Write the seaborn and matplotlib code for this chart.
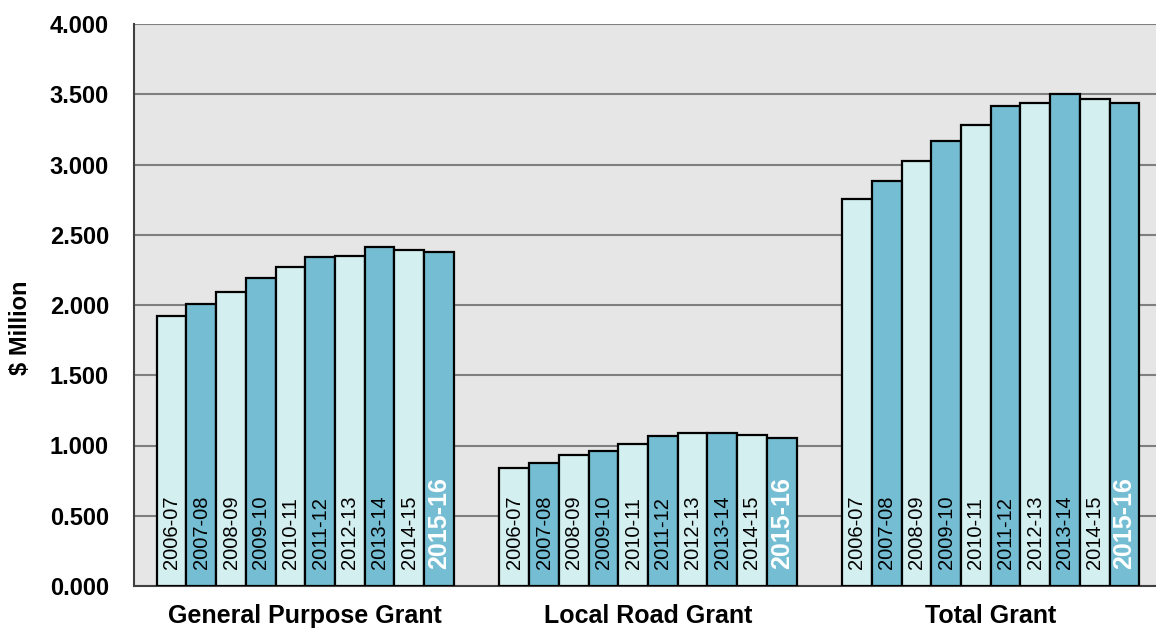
import pandas as pd
import matplotlib.pyplot as plt
import matplotlib.ticker as mticker
import seaborn as sns

# values in $ million (thousands)
grants = ['General Purpose Grant', 'Local Road Grant', 'Total Grant']
years = ['2006-07', '2007-08', '2008-09', '2009-10', '2010-11',
         '2011-12', '2012-13', '2013-14', '2014-15', '2015-16']
general_purpose = [1.920, 2.007, 2.090, 2.190, 2.270, 2.340, 2.350, 2.410, 2.390, 2.380]
local_road = [0.840, 0.875, 0.930, 0.963, 1.010, 1.070, 1.087, 1.087, 1.077, 1.050]
total = [2.755, 2.880, 3.027, 3.165, 3.280, 3.414, 3.435, 3.500, 3.464, 3.435]

rows = []
for grant, vals in zip(grants, [general_purpose, local_road, total]):
    for yr, v in zip(years, vals):
        rows.append({'grant': grant, 'year': yr, 'value': v})
df = pd.DataFrame(rows)

LIGHT = '#d3efef'
DARK = '#75bdd3'
GRID = '#7f7f7f'

sns.set_style('white')
plt.rcParams['font.family'] = ['Liberation Sans', 'DejaVu Sans']
plt.rcParams['text.color'] = 'black'
plt.rcParams['xtick.color'] = 'black'
plt.rcParams['ytick.color'] = 'black'
plt.rcParams['axes.labelcolor'] = 'black'

fig = plt.figure(figsize=(11.56, 6.28), dpi=100)
ax = fig.add_axes([134 / 1156, 1 - 586 / 628, 1028 / 1156, 562 / 628])
ax.set_facecolor('#e6e6e6')

sns.barplot(data=df, x='grant', y='value', hue='year', palette=[LIGHT, DARK] * 5,
            width=0.867, edgecolor='black', linewidth=1.6, saturation=1,
            legend=False, ax=ax, zorder=3)

# year labels inside the bars
for container, yr in zip(ax.containers, years):
    last = yr == years[-1]
    for bar in container:
        ax.text(bar.get_x() + bar.get_width() / 2, 0.12, yr, rotation=90,
                ha='center', va='bottom', zorder=4,
                color='white' if last else 'black',
                fontsize=18 if last else 14.5,
                fontweight='bold' if last else 'normal')

ax.set_xlim(-0.5, 2.5)
ax.set_ylim(0, 4)
ax.yaxis.set_major_locator(mticker.MultipleLocator(0.5))
ax.yaxis.set_major_formatter(mticker.FormatStrFormatter('%.3f'))
ax.grid(axis='y', color=GRID, linewidth=1.5, zorder=0)
ax.set_axisbelow(True)

ax.set_xticks(range(len(grants)))
ax.set_xticklabels(grants, fontsize=18, fontweight='bold')
ax.set_xticks([-0.5, 0.5, 1.5, 2.5], minor=True)
ax.tick_params(axis='x', which='major', length=0, pad=13)
ax.tick_params(axis='x', which='minor', length=7, width=1.5, color='#404040', direction='out')
ax.tick_params(axis='y', length=7, width=1.5, color='#404040', labelcolor='black',
               direction='out', pad=11)
for lbl in ax.get_yticklabels():
    lbl.set_fontsize(17)
    lbl.set_fontweight('bold')

ax.set_xlabel('')
ax.set_ylabel(r'\$ Million', fontsize=17, fontweight='bold', va='center')
ax.yaxis.set_label_coords(-0.110, 0.459)

for side in ['top', 'right']:
    ax.spines[side].set_visible(False)
for side in ['left', 'bottom']:
    ax.spines[side].set_color('#404040')
    ax.spines[side].set_linewidth(1.5)

fig.savefig('out.png', dpi=100)
